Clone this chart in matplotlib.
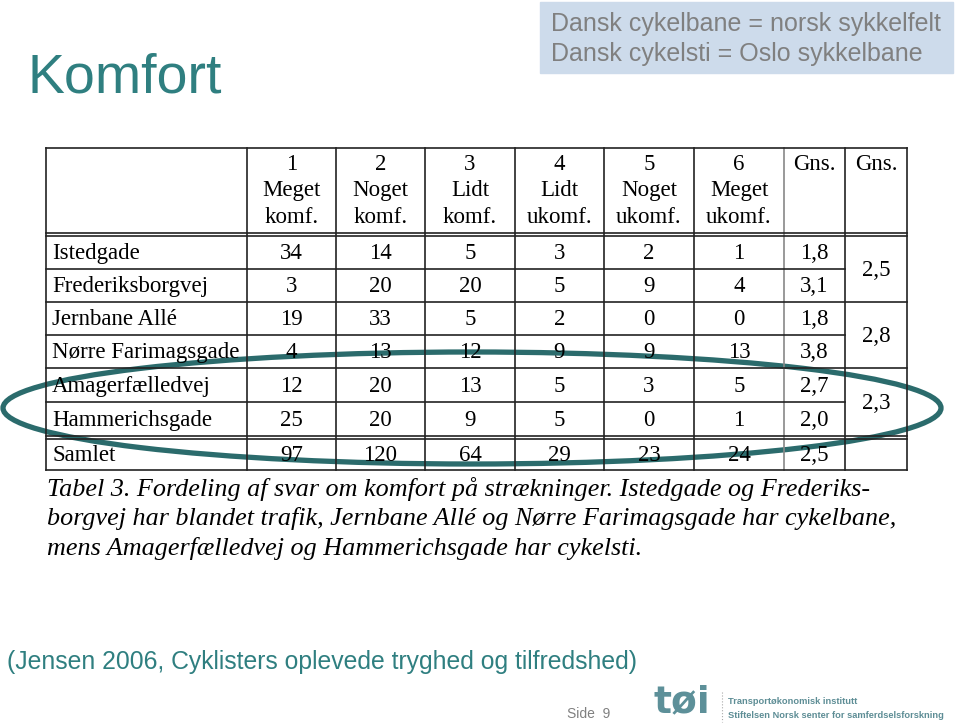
import matplotlib.pyplot as plt
from matplotlib.patches import Ellipse, Rectangle

# table data
streets = ['Istedgade', 'Frederiksborgvej', 'Jernbane Allé',
           'Nørre Farimagsgade', 'Amagerfælledvej', 'Hammerichsgade']
c1 = [34, 3, 19, 4, 12, 25]
c2 = [14, 20, 33, 13, 20, 20]
c3 = [5, 20, 5, 12, 13, 9]
c4 = [3, 5, 2, 9, 5, 5]
c5 = [2, 9, 0, 9, 3, 0]
c6 = [1, 4, 0, 13, 5, 1]
gns = ['1,8', '3,1', '1,8', '3,8', '2,7', '2,0']
gns_group = ['2,5', '2,8', '2,3']
samlet = [97, 120, 64, 29, 23, 24]
samlet_gns = '2,5'
col_heads = [('1', 'Meget', 'komf.'), ('2', 'Noget', 'komf.'), ('3', 'Lidt', 'komf.'),
             ('4', 'Lidt', 'ukomf.'), ('5', 'Noget', 'ukomf.'), ('6', 'Meget', 'ukomf.')]

teal = '#2f7f80'
serif = 'Liberation Serif'
sans = 'Liberation Sans'

fig = plt.figure(figsize=(9.59, 7.25), dpi=100)
ax = fig.add_axes([0, 0, 1, 1])
ax.set_xlim(0, 959)
ax.set_ylim(725, 0)
ax.axis('off')

# title and header box
ax.text(28, 78, 'Komfort', fontsize=40, color=teal, family=sans, va='center')
ax.add_patch(Rectangle((540, 2), 413, 71, color='#cddbeb', zorder=0))
ax.text(551, 24, 'Dansk cykelbane = norsk sykkelfelt', fontsize=18, color='#808080',
        family=sans, va='center')
ax.text(551, 54, 'Dansk cykelsti = Oslo sykkelbane', fontsize=18, color='#808080',
        family=sans, va='center')

# table grid
xs = [46, 247, 336, 425, 515, 604, 694, 784, 845, 907]
row_y = [236, 269, 302, 335, 368, 402, 436]
top, head_bot, sam_top, bot = 148, 233, 439, 470
lc = '#222222'
lw = 1.2
for x in xs:
    col = '#888888' if x == 784 else lc
    ax.plot([x, x], [top, bot], color=col, lw=lw)
ax.plot([xs[0], xs[-1]], [top, top], color=lc, lw=lw)
ax.plot([xs[0], xs[-1]], [bot, bot], color=lc, lw=lw)
ax.plot([xs[0], xs[-1]], [head_bot, head_bot], color=lc, lw=lw)
ax.plot([xs[0], xs[-1]], [row_y[0], row_y[0]], color=lc, lw=lw)
ax.plot([xs[0], xs[-1]], [row_y[-1], row_y[-1]], color=lc, lw=lw)
ax.plot([xs[0], xs[-1]], [sam_top, sam_top], color=lc, lw=lw)
for i, y in enumerate(row_y[1:-1]):
    right = xs[-1] if i % 2 == 1 else xs[-2]
    ax.plot([xs[0], right], [y, y], color=lc, lw=lw)

fs = 16.5
# header
for j, (a, b, c) in enumerate(col_heads):
    cx = (xs[j + 1] + xs[j + 2]) / 2
    for k, s in enumerate((a, b, c)):
        ax.text(cx, 164 + k * 26.5, s, fontsize=fs, family=serif, ha='center', va='center')
for j in (7, 8):
    ax.text((xs[j] + xs[j + 1]) / 2, 164, 'Gns.', fontsize=fs, family=serif,
            ha='center', va='center')

# body
cols = [c1, c2, c3, c4, c5, c6]
for i, name in enumerate(streets):
    cy = (row_y[i] + row_y[i + 1]) / 2 + 1
    ax.text(52, cy, name, fontsize=fs, family=serif, va='center')
    for j, col in enumerate(cols):
        ax.text((xs[j + 1] + xs[j + 2]) / 2, cy, str(col[i]), fontsize=fs,
                family=serif, ha='center', va='center')
    ax.text((xs[7] + xs[8]) / 2, cy, gns[i], fontsize=fs, family=serif,
            ha='center', va='center')
for g, v in enumerate(gns_group):
    cy = (row_y[2 * g] + row_y[2 * g + 2]) / 2 + 1
    ax.text((xs[8] + xs[9]) / 2, cy, v, fontsize=fs, family=serif, ha='center', va='center')

cy = (sam_top + bot) / 2 + 1
ax.text(52, cy, 'Samlet', fontsize=fs, family=serif, va='center')
for j, v in enumerate(samlet):
    ax.text((xs[j + 1] + xs[j + 2]) / 2, cy, str(v), fontsize=fs, family=serif,
            ha='center', va='center')
ax.text((xs[7] + xs[8]) / 2, cy, samlet_gns, fontsize=fs, family=serif,
        ha='center', va='center')

# caption
caption = ['Tabel 3. Fordeling af svar om komfort på strækninger. Istedgade og Frederiks-',
           'borgvej har blandet trafik, Jernbane Allé og Nørre Farimagsgade har cykelbane,',
           'mens Amagerfælledvej og Hammerichsgade har cykelsti.']
for k, line in enumerate(caption):
    ax.text(47, 489 + k * 29.5, line, fontsize=18.8, family=serif, style='italic',
            va='center')

# highlight ellipse
ax.add_patch(Ellipse((472, 408), 938, 112, fill=False, edgecolor='#2b6b6c', lw=3.8))

# footer
ax.text(7, 662, '(Jensen 2006, Cyklisters oplevede tryghed og tilfredshed)',
        fontsize=17.8, color=teal, family=sans, va='center')
ax.text(567, 714, 'Side  9', fontsize=10, color='#808080', family=sans, va='center')
ax.text(653, 702, 'tøi', fontsize=27, color='#5d9099', family='DejaVu Sans',
        weight='bold', va='center')
ax.plot([722, 722], [692, 722], color='#aaaaaa', lw=0.8, ls=':')
ax.text(728, 702, 'Transportøkonomisk institutt', fontsize=6.7, color='#5d8d95',
        family=sans, weight='bold', va='center')
ax.text(728, 716, 'Stiftelsen Norsk senter for samferdselsforskning', fontsize=6.7,
        color='#5d8d95', family=sans, weight='bold', va='center')

fig.savefig('out.png', dpi=100)
